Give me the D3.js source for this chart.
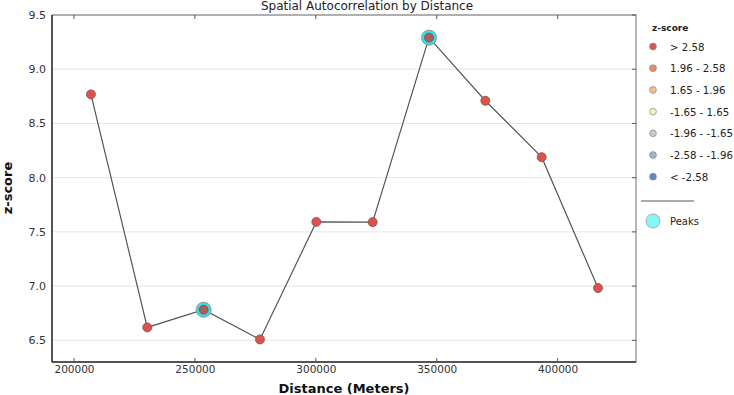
<!DOCTYPE html>
<html><head><meta charset="utf-8">
<script src="https://cdn.jsdelivr.net/npm/d3@7"></script>
<style>body{margin:0;background:#fff;}svg{display:block;font-family:"DejaVu Sans",sans-serif;}</style>
</head><body><svg id="c" width="734" height="395"></svg>
<script>
const distances = [207000, 230300, 253600, 276900, 300200, 323500, 346800, 370100, 393400, 416700];
const zscores = [8.768, 6.619, 6.782, 6.508, 7.592, 7.590, 9.291, 8.709, 8.189, 6.982];
const peakIdx = [2, 6];
const xTicks = [200000, 250000, 300000, 350000, 400000];
const yTicks = [6.5, 7.0, 7.5, 8.0, 8.5, 9.0, 9.5];
const legendLabels = ["> 2.58", "1.96 - 2.58", "1.65 - 1.96", "-1.65 - 1.65", "-1.96 - -1.65", "-2.58 - -1.96", "< -2.58"];
const legendColors = ["#d9544e", "#e88a6c", "#f4bf8f", "#f7f3b5", "#c9ccc0", "#9db4d0", "#5d87c3"];

const svg = d3.select("#c");
const L = 52, R = 636, T = 15, B = 362;
const x = d3.scaleLinear().domain([190900, 432400]).range([L, R]);
const y = d3.scaleLinear().domain([6.3, 9.5]).range([B, T]);

// grid
svg.append("g").selectAll("line").data(yTicks).join("line")
  .attr("x1", L).attr("x2", R).attr("y1", d => y(d)).attr("y2", d => y(d))
  .attr("stroke", "#e6e6e6").attr("stroke-width", 1);

// frame
svg.append("rect").attr("x", L).attr("y", T).attr("width", R - L).attr("height", B - T)
  .attr("fill", "none").attr("stroke", "#6e6e6e").attr("stroke-width", 1);
svg.append("line").attr("x1", L).attr("x2", L).attr("y1", T).attr("y2", B).attr("stroke", "#333").attr("stroke-width", 1.5);
svg.append("line").attr("x1", L).attr("x2", R).attr("y1", B).attr("y2", B).attr("stroke", "#333").attr("stroke-width", 1.5);

// axes
const xAxis = d3.axisBottom(x).tickValues(xTicks).tickFormat(d3.format("d")).tickSize(0).tickPadding(4);
const gx = svg.append("g").attr("transform", `translate(0,${B})`).call(xAxis);
gx.select(".domain").remove();
gx.selectAll("text").attr("font-size", 10.5).attr("fill", "#333").attr("font-family", "DejaVu Sans");
const yAxis = d3.axisLeft(y).tickValues(yTicks).tickFormat(d3.format(".1f")).tickSize(0).tickPadding(6);
const gy = svg.append("g").attr("transform", `translate(${L},0)`).call(yAxis);
gy.select(".domain").remove();
gy.selectAll("text").attr("font-size", 11).attr("fill", "#333").attr("font-family", "DejaVu Sans");

// inner ticks (top, bottom, right)
svg.append("g").selectAll("line").data(xTicks).join("line")
  .attr("x1", d => x(d)).attr("x2", d => x(d)).attr("y1", T).attr("y2", T + 4).attr("stroke", "#555");
svg.append("g").selectAll("line").data(xTicks).join("line")
  .attr("x1", d => x(d)).attr("x2", d => x(d)).attr("y1", B).attr("y2", B - 4).attr("stroke", "#555");
svg.append("g").selectAll("line").data(yTicks).join("line")
  .attr("x1", R).attr("x2", R - 4).attr("y1", d => y(d)).attr("y2", d => y(d)).attr("stroke", "#555");

// line
const pts = distances.map((d, i) => [d, zscores[i]]);
svg.append("path").datum(pts)
  .attr("d", d3.line().x(d => x(d[0])).y(d => y(d[1])))
  .attr("fill", "none").attr("stroke", "#555").attr("stroke-width", 1.2);

// peaks
svg.append("g").selectAll("circle").data(peakIdx).join("circle")
  .attr("cx", i => x(distances[i])).attr("cy", i => y(zscores[i])).attr("r", 7.5)
  .attr("fill", "#2fe3e8").attr("stroke", "#8a9a9a").attr("stroke-width", 1);

// points
svg.append("g").selectAll("circle").data(pts).join("circle")
  .attr("cx", d => x(d[0])).attr("cy", d => y(d[1])).attr("r", 4.5)
  .attr("fill", (d, i) => peakIdx.includes(i) ? "#a8605a" : "#d9544e")
  .attr("stroke", "#8a4a46").attr("stroke-width", 0.8);

// title
svg.append("text").attr("x", 367).attr("y", 10).attr("text-anchor", "middle")
  .attr("font-size", 12).attr("fill", "#222").text("Spatial Autocorrelation by Distance");

// axis labels
svg.append("text").attr("x", 344).attr("y", 393).attr("text-anchor", "middle")
  .attr("font-size", 13).attr("font-weight", "bold").attr("fill", "#111").text("Distance (Meters)");
svg.append("text").attr("transform", "translate(12,188) rotate(-90)").attr("text-anchor", "middle")
  .attr("font-size", 13).attr("font-weight", "bold").attr("fill", "#111").text("z-score");

// legend
const lg = svg.append("g");
lg.append("text").attr("x", 652).attr("y", 31).attr("font-size", 9).attr("font-weight", "bold").attr("fill", "#222").text("z-score");
const items = lg.selectAll("g.it").data(legendLabels).join("g").attr("class", "it")
  .attr("transform", (d, i) => `translate(0,${46.5 + i * 21.7})`);
items.append("circle").attr("cx", 653).attr("cy", 0).attr("r", 3.4)
  .attr("fill", (d, i) => legendColors[i]).attr("stroke", "#888").attr("stroke-width", 0.7);
items.append("text").attr("x", 670).attr("y", 4).attr("font-size", 10.2).attr("fill", "#222").text(d => d);
lg.append("line").attr("x1", 641).attr("x2", 694).attr("y1", 201).attr("y2", 201).attr("stroke", "#555").attr("stroke-width", 1);
lg.append("circle").attr("cx", 653).attr("cy", 221).attr("r", 7).attr("fill", "#80f8f8").attr("stroke", "#aaa").attr("stroke-width", 1);
lg.append("text").attr("x", 670).attr("y", 225).attr("font-size", 10).attr("fill", "#222").text("Peaks");
</script></body></html>
